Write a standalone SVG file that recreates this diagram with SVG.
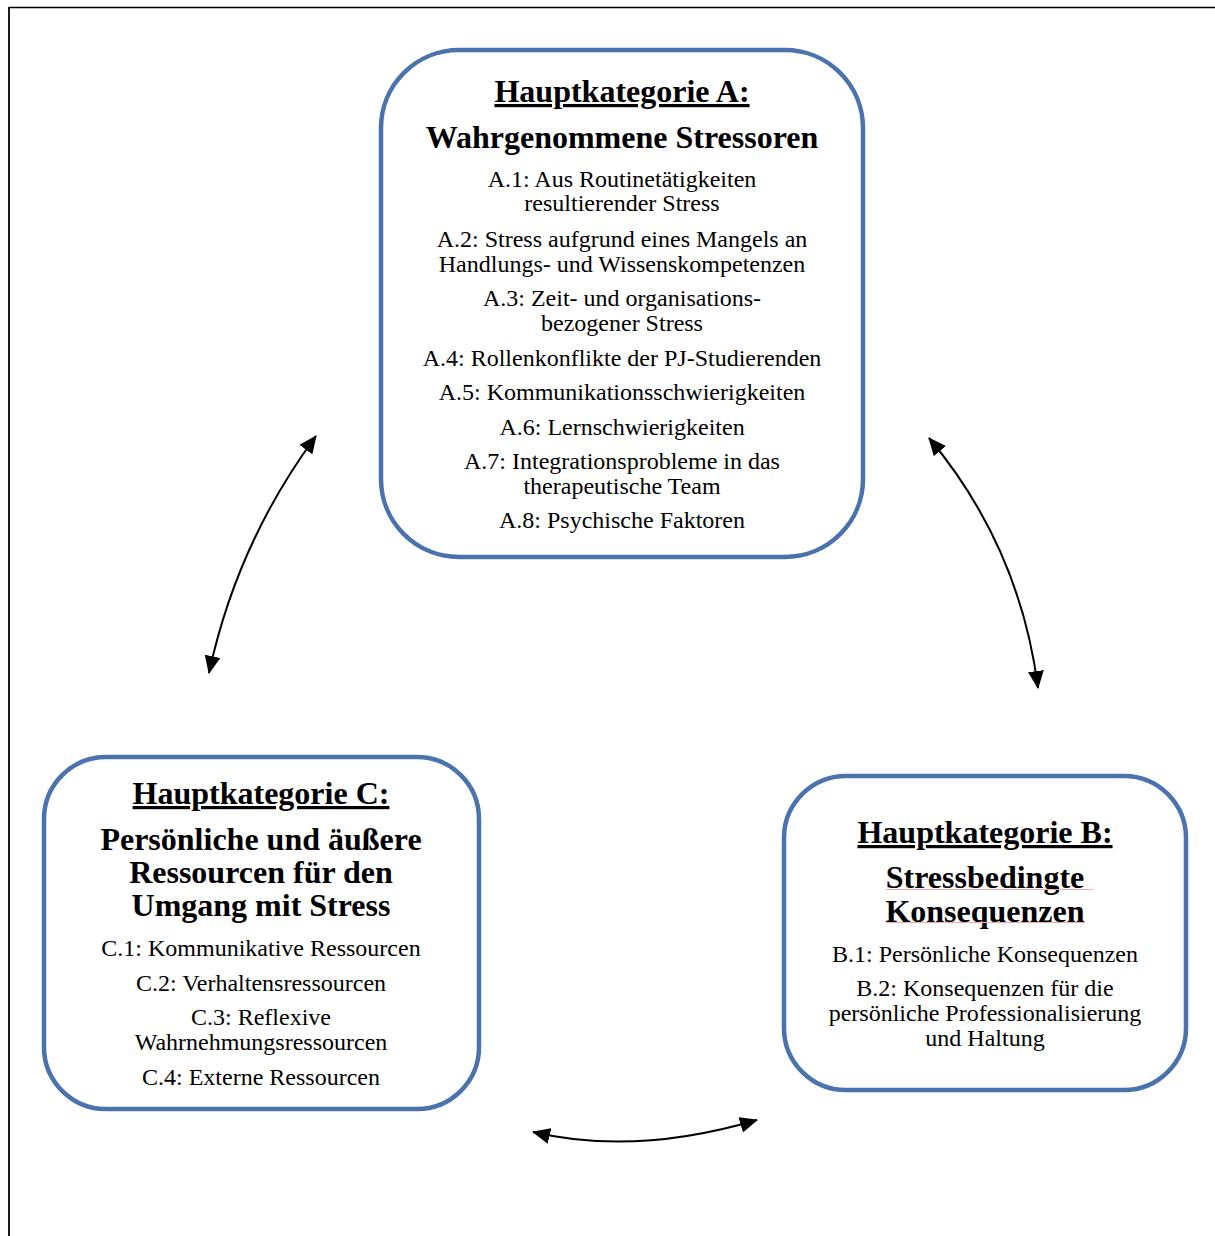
<svg xmlns="http://www.w3.org/2000/svg" width="1215" height="1236" viewBox="0 0 1215 1236">
<style>
.box{fill:#fff;stroke:#4a72ad;stroke-width:4.5}
.t{font-family:"Liberation Serif","Times New Roman",serif;fill:#000;text-anchor:middle}
.h{font-size:32px;font-weight:bold;text-decoration:underline}
.s{font-size:32px;font-weight:bold}
.b{font-size:24px}
.con{fill:none;stroke:#000;stroke-width:2}
.sq{stroke:#f2a8a8;stroke-width:1}
</style>
<defs>
<marker id="a" viewBox="0 0 18 16" refX="17" refY="8" markerWidth="18" markerHeight="16" markerUnits="userSpaceOnUse" orient="auto-start-reverse">
<path d="M0,0 L18,8 L0,16 Z" fill="#000"/>
</marker>
</defs>
<rect width="1215" height="1236" fill="#fff"/>
<g id="frame">
<line x1="9" y1="7.5" x2="1215" y2="7.5" stroke="#000" stroke-width="1.5"/>
<line x1="9" y1="7" x2="9" y2="1236" stroke="#000" stroke-width="1.8"/>
</g>
<g id="connectors">
<path class="con" d="M316,436 Q237,543 209,673" marker-start="url(#a)" marker-end="url(#a)"/>
<path class="con" d="M929,438 Q1020,547 1038,688" marker-start="url(#a)" marker-end="url(#a)"/>
<path class="con" d="M533,1132 Q635,1156 757,1120" marker-start="url(#a)" marker-end="url(#a)"/>
</g>
<g id="nodeA">
<rect class="box" x="381" y="50" width="482" height="507" rx="78" ry="78"/>
<text class="t h" x="622" y="102">Hauptkategorie A:</text>
<text class="t s" x="622" y="148">Wahrgenommene Stressoren</text>
<text class="t b" x="622" y="187">A.1: Aus Routinetätigkeiten</text>
<text class="t b" x="622" y="211">resultierender Stress</text>
<text class="t b" x="622" y="247">A.2: Stress aufgrund eines Mangels an</text>
<text class="t b" x="622" y="272">Handlungs- und Wissenskompetenzen</text>
<text class="t b" x="622" y="306">A.3: Zeit- und organisations-</text>
<text class="t b" x="622" y="331">bezogener Stress</text>
<text class="t b" x="622" y="366">A.4: Rollenkonflikte der PJ-Studierenden</text>
<text class="t b" x="622" y="400">A.5: Kommunikationsschwierigkeiten</text>
<text class="t b" x="622" y="435">A.6: Lernschwierigkeiten</text>
<text class="t b" x="622" y="469">A.7: Integrationsprobleme in das</text>
<text class="t b" x="622" y="494">therapeutische Team</text>
<text class="t b" x="622" y="528">A.8: Psychische Faktoren</text>
</g>
<g id="nodeC">
<rect class="box" x="44" y="757" width="435" height="352" rx="62" ry="62"/>
<text class="t h" x="261" y="804">Hauptkategorie C:</text>
<text class="t s" x="261" y="850">Persönliche und äußere</text>
<text class="t s" x="261" y="883">Ressourcen für den</text>
<text class="t s" x="261" y="916">Umgang mit Stress</text>
<text class="t b" x="261" y="956">C.1: Kommunikative Ressourcen</text>
<text class="t b" x="261" y="991">C.2: Verhaltensressourcen</text>
<text class="t b" x="261" y="1025">C.3: Reflexive</text>
<text class="t b" x="261" y="1050">Wahrnehmungsressourcen</text>
<text class="t b" x="261" y="1085">C.4: Externe Ressourcen</text>
</g>
<g id="nodeB">
<rect class="box" x="784" y="776" width="402" height="314" rx="62" ry="62"/>
<text class="t h" x="985" y="843">Hauptkategorie B:</text>
<text class="t s" x="985" y="888">Stressbedingte</text>
<text class="t s" x="985" y="922">Konsequenzen</text>
<line class="sq" x1="886" y1="889.5" x2="1093" y2="889.5"/>
<line class="sq" x1="886" y1="922.5" x2="1085" y2="922.5"/>
<text class="t b" x="985" y="962">B.1: Persönliche Konsequenzen</text>
<text class="t b" x="985" y="996">B.2: Konsequenzen für die</text>
<text class="t b" x="985" y="1021">persönliche Professionalisierung</text>
<text class="t b" x="985" y="1046">und Haltung</text>
</g>
</svg>
